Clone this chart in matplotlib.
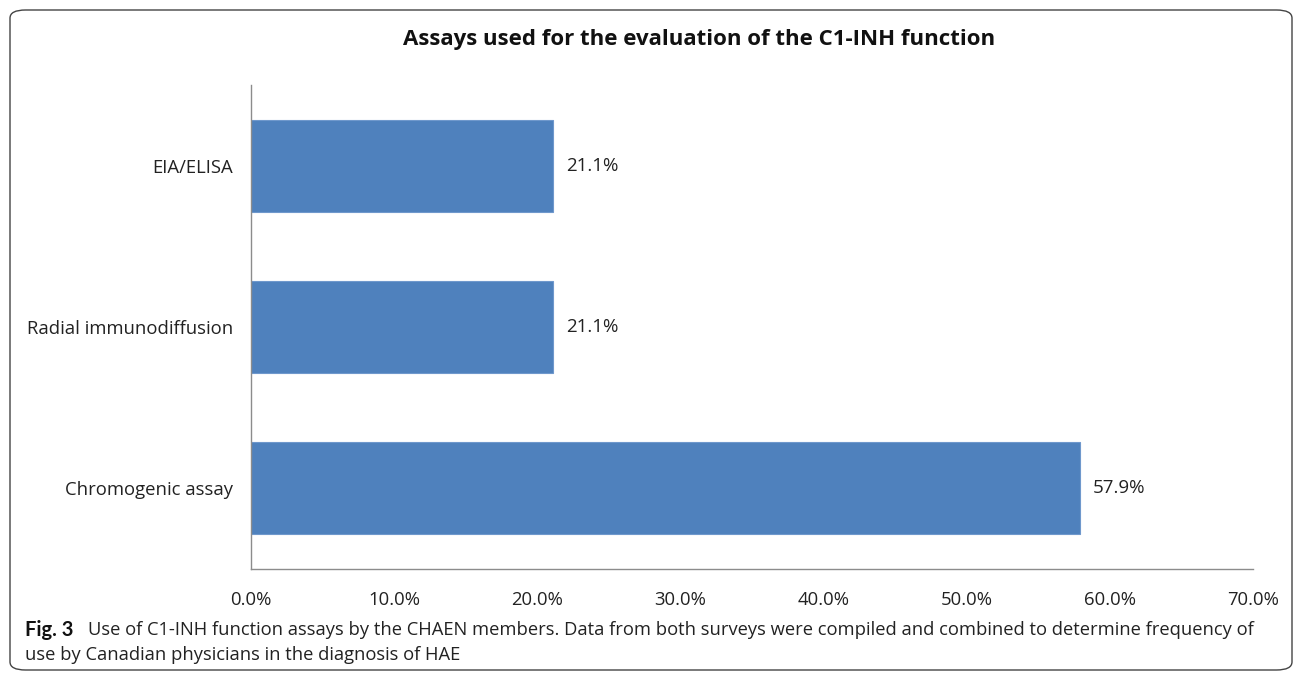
import matplotlib
matplotlib.use("Agg")
import matplotlib.pyplot as plt
from matplotlib.patches import FancyBboxPatch
from matplotlib.ticker import FuncFormatter

categories = ["Chromogenic assay", "Radial immunodiffusion", "EIA/ELISA"]
values = [57.9, 21.1, 21.1]
xticks = [0, 10, 20, 30, 40, 50, 60, 70]

plt.rcParams['font.family'] = ['Open Sans', 'DejaVu Sans']

fig = plt.figure(figsize=(12.96, 6.76), dpi=100)
ax = fig.add_axes([251/1296, 1-569/676, (1253-251)/1296, (569-85)/676])

bars = ax.barh(range(len(categories)), values, height=0.57, color="#4F81BD",
               edgecolor="#6F98CC", linewidth=0.8)
for i, v in enumerate(values):
    ax.text(v + 0.9, i, f"{v:.1f}%", va="center", ha="left", fontsize=13.5, color="#222222")

ax.set_xlim(0, 70)
ax.set_ylim(-0.5, len(categories) - 0.5)
ax.set_xticks(xticks)
ax.xaxis.set_major_formatter(FuncFormatter(lambda x, p: f"{x:.1f}%"))
ax.set_yticks(range(len(categories)))
ax.set_yticklabels(categories)
ax.tick_params(axis="both", length=0, labelsize=13.3, colors="#222222")
ax.tick_params(axis="x", pad=16)
ax.tick_params(axis="y", pad=13)
for s in ["top", "right"]:
    ax.spines[s].set_visible(False)
for s in ["left", "bottom"]:
    ax.spines[s].set_color("#8C8C8C")
    ax.spines[s].set_linewidth(1.0)

fig.text(699/1296, 1-40/676, "Assays used for the evaluation of the C1-INH function",
         ha="center", va="center", fontsize=16, fontweight="bold", color="#111111")

box = FancyBboxPatch((10/1296, 6/676), 1282/1296, 660/676,
                     boxstyle="round,pad=0,rounding_size=0.012",
                     transform=fig.transFigure, fill=False, edgecolor="#444444", linewidth=1.0)
fig.patches.append(box)

fig.text(25/1296, 1-630/676, "Fig. 3", ha="left", va="center", fontsize=14.5,
         fontweight="bold", color="#111111", family=["Lato", "DejaVu Sans"])
fig.text(88/1296, 1-630/676,
         "Use of C1-INH function assays by the CHAEN members. Data from both surveys were compiled and combined to determine frequency of",
         ha="left", va="center", fontsize=13.2, color="#222222")
fig.text(25/1296, 1-655/676, "use by Canadian physicians in the diagnosis of HAE",
         ha="left", va="center", fontsize=13.2, color="#222222")

fig.savefig("out.png", dpi=100)
